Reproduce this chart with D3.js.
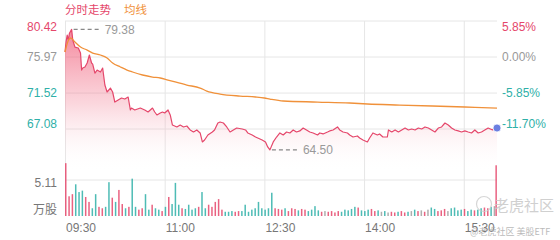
<!DOCTYPE html>
<html>
<head>
<meta charset="utf-8">
<script src="https://cdn.jsdelivr.net/npm/d3@7/dist/d3.min.js"></script>
<style>
  body { margin: 0; background: #fff; }
  svg { display: block; }
  text { font-family: "Liberation Sans", Arial, "Noto Sans CJK SC", sans-serif; }
  .cjk { font-family: "Noto Sans CJK SC", sans-serif; }
</style>
</head>
<body>
<svg id="chart" width="560" height="240"></svg>
<script>
// minutes after 09:30 and last price
const priceMin = [0,1,2,3,4,6,7,9,12,14,15,16,18,20,22,24,25,27,29,32,34,36,38,41,43,45,48,51,54,57,59,60,63,68,72,75,79,81,83,86,88,90,93,95,97,101,104,107,110,113,116,119,122,124,126,129,133,135,138,140,143,146,149,152,155,160,163,165,169,172,174,178,181,183,185,188,191,194,197,200,203,206,209,212,215,218,221,224,228,230,233,237,239,242,246,248,251,255,257,260,264,266,269,273,275,278,282,284,287,291,292,295,298,301,304,307,310,313,316,319,322,325,328,331,334,337,340,343,346,349,352,355,358,361,364,367,370,373,376,379,382,386,388,390];
const priceVal = [76.59,77.90,78.69,78.07,78.90,79.38,78.07,77.20,77.08,76.46,74.36,74.61,74.74,75.23,76.22,75.23,75.10,73.99,74.36,74.12,74.61,72.51,71.65,72.14,71.65,70.41,70.66,70.91,70.78,71.03,69.43,69.67,69.43,69.67,69.43,69.18,69.67,69.18,68.81,69.06,69.18,69.06,69.43,68.81,67.57,67.33,67.57,67.33,67.45,66.96,66.71,66.96,66.59,65.48,65.72,66.34,66.71,66.96,67.82,67.94,67.82,67.33,66.71,66.96,67.20,67.08,66.96,66.59,66.34,66.09,65.97,65.72,65.48,64.86,64.50,65.48,66.09,66.59,66.34,66.71,66.59,66.96,66.71,66.84,67.20,66.96,66.71,66.59,66.34,66.59,66.47,66.71,66.84,66.96,67.33,66.96,66.71,66.59,66.34,66.09,66.22,65.97,65.72,65.48,65.97,66.59,66.34,66.47,66.09,66.09,66.96,66.71,66.96,66.71,66.96,67.20,66.96,67.08,66.96,67.20,67.08,67.33,67.20,66.96,66.71,67.20,67.33,67.82,67.57,67.20,66.96,66.84,66.71,66.84,66.71,66.59,66.96,66.59,66.71,66.96,67.20,66.96,67.20,67.20];

// average price line
const avgMin = [0,3,5,9,14,20,25,32,38,43,50,56,61,70,79,86,93,110,122,128,140,158,172,180,185,197,228,257,273,302,361,390];
const avgVal = [76.59,78.00,78.32,77.82,77.20,76.83,76.46,76.22,75.85,75.23,74.74,74.36,74.12,73.75,73.50,73.38,73.13,72.51,72.14,71.77,71.40,71.15,71.03,70.91,70.78,70.54,70.41,70.29,70.17,70.04,69.80,69.67];

// volume (万股), one bar per 3 minutes, last one is the close
const volume = [7.5,2.8,3.1,4.5,3.4,3.6,2.7,2.0,1.1,3.1,
  1.3,1.1,1.3,4.8,2.6,2.0,3.7,1.7,1.1,1.3,
  5.3,1.3,0.9,1.1,3.1,0.9,1.6,1.1,0.9,0.7,
  1.3,2.7,1.7,4.7,1.6,1.1,1.0,1.6,0.9,1.1,
  1.3,3.4,1.1,1.6,1.3,2.0,2.4,0.9,0.6,0.6,
  0.7,0.6,0.7,0.7,1.6,0.6,0.9,1.1,2.0,1.1,
  0.9,1.1,3.3,1.1,1.0,0.9,1.1,0.7,1.1,1.0,
  0.8,1.0,0.9,0.7,0.9,1.4,0.8,0.6,0.7,0.6,
  0.7,0.5,0.7,0.6,0.9,0.8,1.0,1.3,1.2,0.8,
  0.7,0.9,1.0,0.7,0.8,0.6,0.7,0.5,0.6,0.5,
  0.6,0.7,0.5,0.6,0.7,0.9,0.7,0.8,0.6,0.9,
  1.2,1.0,0.7,0.8,1.0,0.7,1.1,1.2,0.8,0.9,
  1.0,0.7,0.9,0.8,0.9,1.1,1.2,1.1,1.3,1.4,
  7.2];

const priceTicks = [80.42, 75.97, 71.52, 67.08];
const pctTicks = ["5.85%", "0.00%", "-5.85%", "-11.70%"];
const timeTicks = [0, 90, 180, 270, 360];
const timeLabels = ["09:30", "11:00", "12:30", "14:00", "15:30"];
const volTick = 5.11;

const RED = "#e5476b", TEAL = "#2fb0a8", GRAY = "#999", ORANGE = "#f0913a", GRID = "#e6e6e6";

const svg = d3.select("#chart");
const left = 65, right = 497;

const x = d3.scaleLinear().domain([0, 390]).range([left, right]);
const y = d3.scaleLinear().domain([67.08, 80.42]).range([129, 21]);
const yv = d3.scaleLinear().domain([0, volTick]).range([216, 180]);

// gradient for the price area
const grad = svg.append("defs").append("linearGradient")
  .attr("id", "areaGrad").attr("gradientUnits", "userSpaceOnUse")
  .attr("x1", 0).attr("x2", 0).attr("y1", 21).attr("y2", 172);
grad.append("stop").attr("offset", 0).attr("stop-color", "#ef4f6e").attr("stop-opacity", 0.75);
grad.append("stop").attr("offset", 0.55).attr("stop-color", "#f27a90").attr("stop-opacity", 0.3);
grad.append("stop").attr("offset", 1).attr("stop-color", "#fff").attr("stop-opacity", 0);

// grid
const g = svg.append("g");
priceTicks.forEach(p => {
  g.append("line").attr("x1", left).attr("x2", right).attr("y1", y(p)).attr("y2", y(p))
    .attr("stroke", GRID);
});
g.append("line").attr("x1", left).attr("x2", right).attr("y1", yv(volTick)).attr("y2", yv(volTick))
  .attr("stroke", GRID);
timeTicks.forEach(t => {
  g.append("line").attr("x1", x(t) + 0.5).attr("x2", x(t) + 0.5).attr("y1", 21).attr("y2", 216)
    .attr("stroke", GRID);
});

// area + lines
const pts = priceMin.map((m, i) => [m, priceVal[i]]);
const area = d3.area().x(d => x(d[0])).y0(172).y1(d => y(d[1]));
svg.append("path").datum(pts).attr("d", area).attr("fill", "url(#areaGrad)");

const line = d3.line().x(d => x(d[0])).y(d => y(d[1]));
svg.append("path").datum(pts).attr("d", line)
  .attr("fill", "none").attr("stroke", RED).attr("stroke-width", 1.2).attr("stroke-linejoin", "round");

const avgPts = avgMin.map((m, i) => [m, avgVal[i]]);
svg.append("path").datum(avgPts).attr("d", d3.line().x(d => x(d[0])).y(d => y(d[1])).curve(d3.curveMonotoneX))
  .attr("fill", "none").attr("stroke", ORANGE).attr("stroke-width", 1.3);

// volume bars, coloured by the price move in each bucket
const priceAt = d3.scaleLinear().domain(priceMin).range(priceVal);
svg.append("g").selectAll("rect").data(volume).join("rect")
  .attr("x", (d, i) => Math.min(x(i * 3), right - 1.6))
  .attr("width", 1.5)
  .attr("y", d => yv(d))
  .attr("height", d => yv(0) - yv(d))
  .attr("fill", (d, i) => {
    const m0 = Math.max(0, i * 3 - 3), m1 = i * 3;
    const diff = priceAt(m1) - priceAt(m0);
    if (i === 0 || i === volume.length - 1) return RED;
    return diff > 0.03 ? RED : diff < -0.03 ? TEAL : "#a0a0a0";
  })
  .attr("opacity", 0.85);

// max / min labels
[d3.maxIndex(priceVal), d3.minIndex(priceVal)].forEach(i => {
  const px = x(priceMin[i]), py = y(priceVal[i]);
  svg.append("line").attr("x1", px + 2).attr("x2", px + 29).attr("y1", py).attr("y2", py)
    .attr("stroke", "#888").attr("stroke-width", 1.2).attr("stroke-dasharray", "4,3");
  svg.append("text").attr("x", px + 33).attr("y", py + 4.5).attr("fill", GRAY)
    .attr("font-size", 12).text(priceVal[i].toFixed(2));
});

// last point marker
svg.append("circle").attr("cx", x(390)).attr("cy", y(priceVal[priceVal.length - 1]))
  .attr("r", 4).attr("fill", "#6b7fe0").attr("stroke", "#fff").attr("stroke-width", 0.8);

// axis labels
const priceColor = i => i === 0 ? RED : i === 1 ? GRAY : TEAL;
priceTicks.forEach((p, i) => {
  let ty = y(p) + 4;
  if (i === 0) ty += 6;
  if (i === priceTicks.length - 1) ty -= 5;
  svg.append("text").attr("x", 57).attr("y", ty).attr("text-anchor", "end")
    .attr("font-size", 12).attr("fill", priceColor(i)).text(p.toFixed(2));
  svg.append("text").attr("x", 502).attr("y", ty).attr("font-size", 12)
    .attr("fill", priceColor(i)).text(pctTicks[i]);
});
svg.append("text").attr("x", 57).attr("y", yv(volTick) + 7).attr("text-anchor", "end")
  .attr("font-size", 12).attr("fill", "#777").text(volTick.toFixed(2));
svg.append("text").attr("class", "cjk").attr("x", 57).attr("y", 214).attr("text-anchor", "end")
  .attr("font-size", 12).attr("fill", "#777").text("万股");

timeTicks.forEach((t, i) => {
  svg.append("text").attr("x", x(t) + 1).attr("y", 232).attr("font-size", 12)
    .attr("fill", "#777").text(timeLabels[i]);
});

// legend
svg.append("text").attr("class", "cjk").attr("x", 65).attr("y", 14).attr("font-size", 11.5)
  .attr("fill", RED).text("分时走势");
svg.append("text").attr("class", "cjk").attr("x", 124).attr("y", 14).attr("font-size", 11.5)
  .attr("fill", ORANGE).text("均线");

// watermark
svg.append("circle").attr("cx", 484).attr("cy", 204).attr("r", 7.5)
  .attr("fill", "none").attr("stroke", "#ccc").attr("stroke-width", 1.2).attr("opacity", 0.8);
svg.append("text").attr("class", "cjk").attr("x", 494).attr("y", 211).attr("font-size", 15)
  .attr("fill", "#c8c8c8").attr("opacity", 0.85).text("老虎社区");
svg.append("text").attr("class", "cjk").attr("x", 470).attr("y", 235).attr("font-size", 9)
  .attr("fill", "#aaa").attr("opacity", 0.8).text("@老虎社区 美股ETF");
</script>
</body>
</html>
